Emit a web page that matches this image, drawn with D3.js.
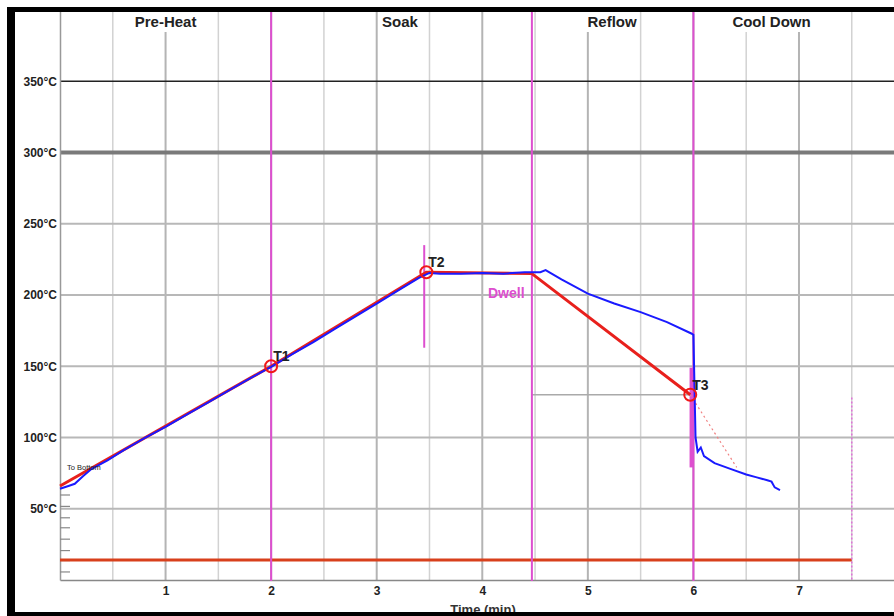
<!DOCTYPE html>
<html>
<head>
<meta charset="utf-8">
<script src="https://cdn.jsdelivr.net/npm/d3@7"></script>
<style>
  body { margin: 0; background: #fff; }
  text { font-family: "Liberation Sans", Arial, sans-serif; }
</style>
</head>
<body>
<div id="chart"></div>
<script>
// axis values
const xTicks = [1, 2, 3, 4, 5, 6, 7];
const xHalfGrid = [0.5, 1.5, 2.5, 3.5, 4.5, 5.5, 6.5, 7.5];
const yTicks = [50, 100, 150, 200, 250, 300, 350];
const yMinor = [6, 14, 21, 29, 37, 44, 52, 60];

// phases
const phaseNames = ["Pre-Heat", "Soak", "Reflow", "Cool Down"];
const phaseCenters = [1.0, 3.22, 5.23, 6.74];
const phaseBounds = [2, 4.47, 6];

// target profile (red) and measured (blue)
const targetProfile = [[0, 66], [2, 150], [3.47, 216], [4.47, 215], [5.97, 130]];
const targetTail = [[5.97, 130], [6.41, 79]];
const measured = [
  [0, 64], [0.08, 66], [0.14, 67.5], [0.22, 73], [0.3, 78], [0.45, 84], [0.6, 91], [0.8, 99.5],
  [1.0, 107.5], [1.2, 116], [1.4, 124.5], [1.6, 133], [1.8, 141.5], [2.0, 149.5], [2.2, 158.5],
  [2.4, 167], [2.6, 176], [2.8, 185], [3.0, 194], [3.2, 203], [3.4, 212], [3.5, 215.5],
  [3.6, 215], [3.8, 215], [4.0, 215.5], [4.2, 215], [4.4, 216], [4.55, 216], [4.6, 217.5],
  [4.75, 211], [5.0, 201], [5.25, 194], [5.5, 188], [5.75, 181], [5.98, 173], [6.0, 172],
  [6.02, 100], [6.04, 90], [6.07, 93], [6.1, 87], [6.2, 82], [6.35, 78], [6.5, 74],
  [6.6, 72], [6.7, 70], [6.74, 69], [6.77, 65], [6.82, 63]
];

// markers
const markerNames = ["T1", "T2", "T3"];
const markerTimes = [2.0, 3.47, 5.97];
const markerTemps = [150, 216, 130];

const baseTemp = 14;
const baseEnd = 7.5;
const t3Level = 130;

const W = 894, H = 616;
const svg = d3.select("#chart").append("svg")
  .attr("width", W).attr("height", H);

const x = d3.scaleLinear().domain([0, 7.9]).range([60, 894]);
const y = d3.scaleLinear().domain([0, 400]).range([580, 10]);
const line = d3.line().x(d => x(d[0])).y(d => y(d[1]));

svg.append("rect").attr("width", W).attr("height", H).attr("fill", "#fff");

// vertical grid
svg.append("g").selectAll("line").data(xHalfGrid).join("line")
  .attr("x1", d => x(d)).attr("x2", d => x(d))
  .attr("y1", 12).attr("y2", 581)
  .attr("stroke", "#d2d2d2").attr("stroke-width", 1.5);
svg.append("g").selectAll("line").data(xTicks).join("line")
  .attr("x1", d => x(d)).attr("x2", d => x(d))
  .attr("y1", 12).attr("y2", 581)
  .attr("stroke", "#b4b4b4").attr("stroke-width", 2);

// horizontal grid
svg.append("g").selectAll("line").data(yTicks.filter(d => d < 300)).join("line")
  .attr("x1", 60).attr("x2", W)
  .attr("y1", d => y(d)).attr("y2", d => y(d))
  .attr("stroke", "#b8b8b8").attr("stroke-width", 2);
svg.append("line").attr("x1", 60).attr("x2", W)
  .attr("y1", y(300)).attr("y2", y(300))
  .attr("stroke", "#7a7a7a").attr("stroke-width", 4);
svg.append("line").attr("x1", 60).attr("x2", W)
  .attr("y1", y(350)).attr("y2", y(350))
  .attr("stroke", "#222").attr("stroke-width", 1.5);

// phase label backgrounds and labels
const phases = svg.append("g");
phaseNames.forEach((name, i) => {
  const t = phases.append("text")
    .attr("x", x(phaseCenters[i])).attr("y", 27)
    .attr("text-anchor", "middle")
    .attr("font-size", 15).attr("font-weight", "bold")
    .attr("fill", "#222")
    .text(name);
  const bb = t.node().getBBox();
  phases.insert("rect", "text")
    .attr("x", bb.x - 2).attr("y", 12)
    .attr("width", bb.width + 4).attr("height", 20)
    .attr("fill", "#fff");
});

// axes
const xAxis = svg.append("g")
  .attr("transform", `translate(0,${y(0)})`)
  .call(d3.axisBottom(x).tickValues(xTicks).tickSize(0).tickPadding(6));
xAxis.select(".domain").attr("stroke", "#888").attr("stroke-width", 1.5);
xAxis.selectAll("text").attr("font-size", 12).attr("font-weight", "bold").attr("fill", "#222");

const yAxis = svg.append("g")
  .attr("transform", `translate(60,0)`)
  .call(d3.axisLeft(y).tickValues(yTicks).tickSize(0).tickPadding(3)
    .tickFormat(d => d + "°C"));
yAxis.select(".domain").attr("stroke", "#999").attr("stroke-width", 1.5);
yAxis.selectAll("text").attr("font-size", 12).attr("font-weight", "bold").attr("fill", "#222");

const yMinorAxis = svg.append("g")
  .attr("transform", `translate(60,0)`)
  .call(d3.axisRight(y).tickValues(yMinor).tickSize(10).tickFormat(""));
yMinorAxis.select(".domain").remove();
yMinorAxis.selectAll("line").attr("stroke", "#888").attr("stroke-width", 1.2);

// base line at ambient
svg.append("line")
  .attr("x1", x(0)).attr("x2", x(baseEnd))
  .attr("y1", y(baseTemp)).attr("y2", y(baseTemp))
  .attr("stroke", "#d8401c").attr("stroke-width", 3);
svg.append("line")
  .attr("x1", x(baseEnd)).attr("x2", x(baseEnd))
  .attr("y1", y(128)).attr("y2", y(0))
  .attr("stroke", "#e070d8").attr("stroke-width", 1.5)
  .attr("stroke-dasharray", "2,2");

// T3 level line
svg.append("line")
  .attr("x1", x(4.47)).attr("x2", x(6))
  .attr("y1", y(t3Level)).attr("y2", y(t3Level))
  .attr("stroke", "#aaa").attr("stroke-width", 1.5);

// phase boundaries
svg.append("g").selectAll("line").data(phaseBounds).join("line")
  .attr("x1", d => x(d)).attr("x2", d => x(d))
  .attr("y1", 12).attr("y2", 581)
  .attr("stroke", "#dd4fcf").attr("stroke-width", 2);
svg.append("line")
  .attr("x1", x(3.45)).attr("x2", x(3.45))
  .attr("y1", y(235)).attr("y2", y(163))
  .attr("stroke", "#dd4fcf").attr("stroke-width", 2);
svg.append("line")
  .attr("x1", x(5.98)).attr("x2", x(5.98))
  .attr("y1", y(149)).attr("y2", y(79))
  .attr("stroke", "#dd4fcf").attr("stroke-width", 3.5);

// profiles
svg.append("path").datum(targetTail).attr("d", line)
  .attr("fill", "none").attr("stroke", "#f08080").attr("stroke-width", 1.2)
  .attr("stroke-dasharray", "2,3");
svg.append("path").datum(targetProfile).attr("d", line)
  .attr("fill", "none").attr("stroke", "#e8201c").attr("stroke-width", 3);
svg.append("path").datum(measured).attr("d", line)
  .attr("fill", "none").attr("stroke", "#1a1aff").attr("stroke-width", 2);

// markers
markerNames.forEach((name, i) => {
  svg.append("circle")
    .attr("cx", x(markerTimes[i])).attr("cy", y(markerTemps[i])).attr("r", 6)
    .attr("fill", "none").attr("stroke", "#f01818").attr("stroke-width", 2);
  svg.append("text")
    .attr("x", x(markerTimes[i]) + 2).attr("y", y(markerTemps[i]) - 5)
    .attr("font-size", 14).attr("font-weight", "bold").attr("fill", "#222")
    .text(name);
});

svg.append("text")
  .attr("x", 488).attr("y", 298)
  .attr("font-size", 14).attr("font-weight", "bold").attr("fill", "#dd4fcf")
  .text("Dwell");

svg.append("text")
  .attr("x", 67).attr("y", 470)
  .attr("font-size", 7.5).attr("fill", "#222")
  .text("To Bottom");

// x title
svg.append("text")
  .attr("x", 483).attr("y", 614)
  .attr("text-anchor", "middle")
  .attr("font-size", 13).attr("font-weight", "bold").attr("fill", "#333")
  .text("Time (min)");

// frame
svg.append("rect").attr("x", 7).attr("y", 7).attr("width", 8).attr("height", 609).attr("fill", "#000");
svg.append("rect").attr("x", 7).attr("y", 7).attr("width", W).attr("height", 5).attr("fill", "#000");
svg.append("rect").attr("x", 7).attr("y", 612).attr("width", W).attr("height", 4).attr("fill", "#000");
</script>
</body>
</html>
